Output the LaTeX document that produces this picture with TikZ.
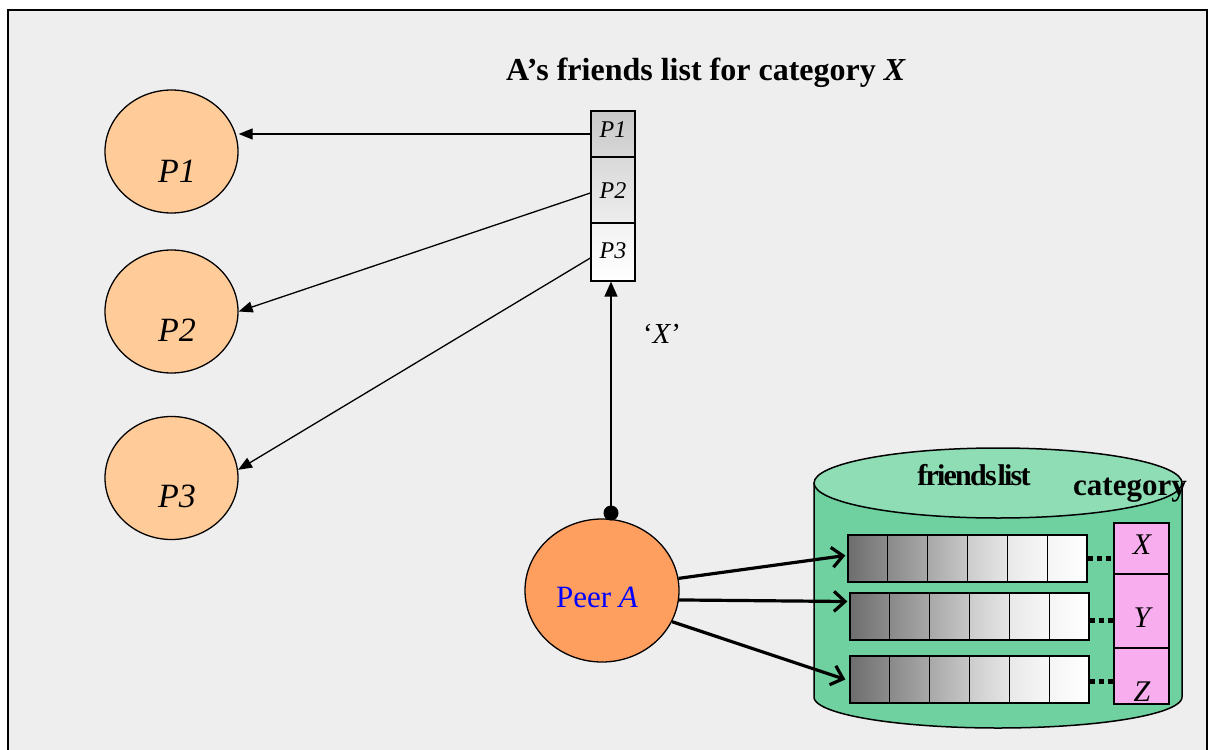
\documentclass[tikz,border=0pt]{standalone}
\usepackage{fontspec}
\setmainfont{Liberation Serif}
\usetikzlibrary{arrows.meta,shapes.geometric,calc}

\definecolor{panel}{HTML}{EEEEEE}
\definecolor{peerfill}{HTML}{FFCC99}
\definecolor{selffill}{HTML}{FF9F5F}
\definecolor{dbbody}{HTML}{6ED19F}
\definecolor{dbtop}{HTML}{8EDDB5}
\definecolor{catfill}{HTML}{F8AEEE}
\definecolor{peerblue}{HTML}{0000FF}

\newcommand{\setfs}[1]{\fontsize{#1}{#1}\selectfont}

\tikzset{
  outline/.style={draw, line width=1.3pt},
  peer/.style={outline, ellipse, fill=peerfill, minimum width=133pt, minimum height=123pt, inner sep=0pt},
  self/.style={outline, ellipse, fill=selffill, minimum width=154pt, minimum height=143pt, inner sep=0pt},
  cell/.style={outline, rectangle, minimum width=44pt, inner sep=0pt},
  rowbox/.style={outline, rectangle, minimum width=239pt, minimum height=47pt, inner sep=0pt},
  catbox/.style={outline, rectangle, fill=catfill, minimum width=55pt, inner sep=0pt},
  txt/.style={anchor=base, inner sep=0pt},
  fwd/.style={line width=1.3pt, -{Triangle[length=14pt,width=11pt]}},
  fwdup/.style={line width=1.5pt, -{Triangle[length=15pt,width=13pt]}},
  query/.style={line width=3.2pt, -{Straight Barb[length=11pt,width=20pt]}},
  ellip/.style={line width=5pt, dash pattern=on 5pt off 4pt},
  dot/.style={circle, fill=black, minimum size=15pt, inner sep=0pt},
}

\begin{document}
\begin{tikzpicture}[x=1pt,y=-1pt]
\useasboundingbox (0,0) rectangle (1209,749);
\clip (0,0) rectangle (1209,749);

% panel
\draw[line width=2pt, fill=panel] (8,10) rectangle (1207,775);

% friends P1..P3
\node[peer] (p1) at (171.5,151.5) {};
\node[peer] (p2) at (171.5,311.5) {};
\node[peer] (p3) at (171.5,478) {};
\node[txt, font=\itshape\setfs{34}] (p1t) at (177,182) {P1};
\node[txt, font=\itshape\setfs{34}] (p2t) at (177,341) {P2};
\node[txt, font=\itshape\setfs{34}] (p3t) at (177,507) {P3};

% A's friends list for category X
\node[txt, font=\bfseries\setfs{32}] (title) at (706,81) {A’s friends list for category \textit{X}};
\node[cell, minimum height=46pt, top color=black!21, bottom color=black!16] (l1) at (613,134) {};
\node[cell, minimum height=66pt, top color=black!15, bottom color=black!7] (l2) at (613,190) {};
\node[cell, minimum height=58pt, top color=black!5, bottom color=white] (l3) at (613,252) {};
\node[txt, font=\itshape\setfs{24}] (l1t) at (613,137) {P1};
\node[txt, font=\itshape\setfs{24}] (l2t) at (613,198) {P2};
\node[txt, font=\itshape\setfs{24}] (l3t) at (613,258) {P3};

\draw[fwd] (l1.west) -- (l1.west -| p1.east);
\draw[fwd] ($(l2.west)+(0,3)$) -- (p2.east);
\draw[fwd] ($(l3.west)+(0,6)$) -- (p3.7);

% peer A
\node[self] (me) at (602,590.5) {};
\node[txt, font=\setfs{31}, text=peerblue] (met) at (597,607) {Peer \textit{A}};
\node[dot] (dot) at (611,513) {};
\draw[fwdup] (dot.center) -- (dot.center |- l3.south);
\node[txt, font=\setfs{29}] (xq) at (662,343) {‘\textit{X}’};

% database cylinder
\fill[dbbody] (814,483) -- (814,697)
  -- plot[domain=180:360, samples=80] ({998+184*cos(\x)}, {697-31*sin(\x)})
  -- (1182,483) -- cycle;
\draw[line width=1.5pt] (814,483) -- (814,697)
  -- plot[domain=180:360, samples=80] ({998+184*cos(\x)}, {697-31*sin(\x)})
  -- (1182,483);
\draw[line width=1.5pt, fill=dbtop] (998,483) ellipse [x radius=184, y radius=35];
\node[txt, font=\bfseries\setfs{30}\addfontfeature{LetterSpace=-6}] (flt) at (974,485) {friends\kern1pt list};
\node[txt, font=\bfseries\setfs{31}] (catt) at (1130,495) {category};

% friend rows
\foreach \rx/\ry in {848/535, 850/593, 850/656} {
  \foreach \i/\lc/\rc in {0/black!57/black!45, 1/black!46/black!34, 2/black!34/black!22,
                          3/black!20/black!10, 4/black!9/black!3, 5/black!4/white} {
    \draw[line width=1.3pt, left color=\lc, right color=\rc]
      ({\rx+\i*39.833}, \ry) rectangle ++(39.833, 47);
  }
}
\node[rowbox] (r1) at (967.5,558.5) {};
\node[rowbox] (r2) at (969.5,616.5) {};
\node[rowbox] (r3) at (969.5,679.5) {};

% category column
\node[catbox, minimum height=51pt] (c1) at (1141.5,548.5) {};
\node[catbox, minimum height=74pt] (c2) at (1141.5,611) {};
\node[catbox, minimum height=56pt] (c3) at (1141.5,676) {};
\node[txt, font=\itshape\setfs{30}] (c1t) at (1142,554) {X};
\node[txt, font=\itshape\setfs{30}] (c2t) at (1142,627) {Y};
\node[txt, font=\itshape\setfs{30}] (c3t) at (1142,701) {Z};

\draw[ellip] (r1.east) -- (r1.east -| c1.west);
\draw[ellip] ($(r2.east)+(0,4)$) -- ($(r2.east -| c2.west)+(0,4)$);
\draw[ellip] ($(r3.east)+(0,2)$) -- ($(r3.east -| c3.west)+(0,2)$);

% lookups from peer A
\draw[query] (me.9) -- ($(r1.west)+(-2,-3)$);
\draw[query] (me.-7) -- ($(r2.west)+(-2,-15)$);
\draw[query] (me.-24) -- ($(r3.west)+(-4,0)$);
\end{tikzpicture}
\end{document}
